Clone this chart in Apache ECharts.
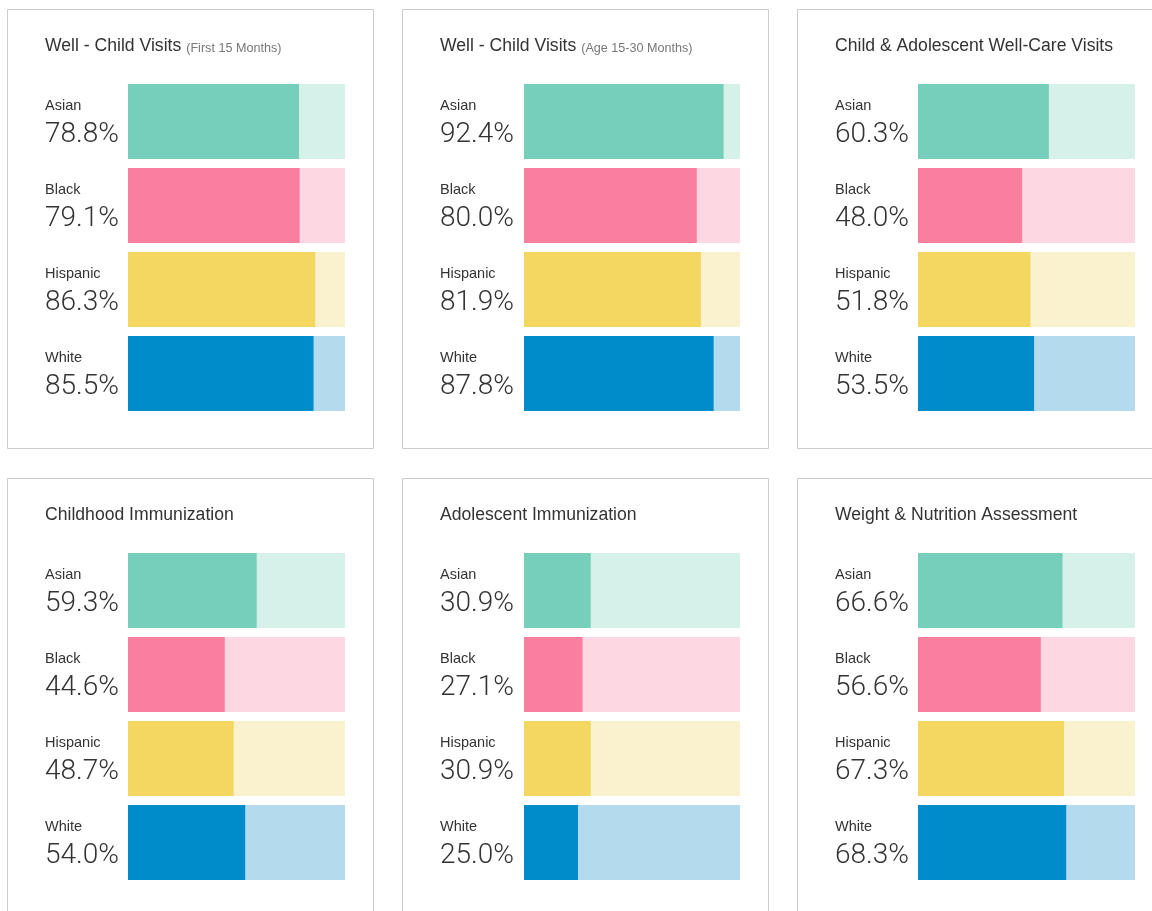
<!DOCTYPE html>
<html>
<head>
<meta charset="utf-8">
<script src="https://cdn.jsdelivr.net/npm/echarts@6/dist/echarts.min.js"></script>
<style>
html,body{margin:0;padding:0;background:#fff;}
#chart{width:1152px;height:911px;}
</style>
</head>
<body>
<div id="chart"></div>
<script>
// ---- Data ----
const categories = ['Asian', 'Black', 'Hispanic', 'White'];
const panelTitles = ['Well - Child Visits', 'Well - Child Visits', 'Child & Adolescent Well-Care Visits',
  'Childhood Immunization', 'Adolescent Immunization', 'Weight & Nutrition Assessment'];
const panelSubtitles = ['(First 15 Months)', '(Age 15-30 Months)', '', '', '', ''];
const wellChild15 = [78.8, 79.1, 86.3, 85.5];
const wellChild30 = [92.4, 80.0, 81.9, 87.8];
const wellCare = [60.3, 48.0, 51.8, 53.5];
const childImmun = [59.3, 44.6, 48.7, 54.0];
const adolImmun = [30.9, 27.1, 30.9, 25.0];
const weightNutrition = [66.6, 56.6, 67.3, 68.3];
const fullScale = [100, 100, 100, 100];
const panelValues = [wellChild15, wellChild30, wellCare, childImmun, adolImmun, weightNutrition];

// ---- Styles ----
const strongColors = ['#76CFBB', '#F87F9E', '#F3D760', '#008CCA'];
const lightColors = ['#D6F0EA', '#FDD7E2', '#FAF2CE', '#B3DBED'];
const colLeft = [128, 524, 918];
const colWidth = [217, 216, 217];
const textLeft = [45, 440, 835];
const panelLeft = [7.5, 402.5, 797.5];
const rowTop = [0, 469];

const chart = echarts.init(document.getElementById('chart'), null, {renderer: 'canvas'});

const grids = [], xAxes = [], yAxes = [], series = [], titles = [], graphics = [];
panelValues.forEach((vals, i) => {
  const c = i % 3, r = Math.floor(i / 3);
  const oy = rowTop[r];
  grids.push({left: colLeft[c], top: 79.5 + oy, width: colWidth[c], height: 336, containLabel: false});
  xAxes.push({type: 'value', gridIndex: i, min: 0, max: 100, show: false});
  yAxes.push({
    type: 'category', gridIndex: i, data: categories, inverse: true,
    axisLine: {show: false}, axisTick: {show: false}, splitLine: {show: false},
    axisLabel: {
      align: 'left', margin: colLeft[c] - textLeft[c], padding: [4, 0, 0, 0],
      formatter: (v, idx) => '{c|' + v + '}\n{v|' + vals[idx].toFixed(1) + '%}',
      rich: {
        c: {fontFamily: 'Liberation Sans, Arial, sans-serif', fontSize: 14.5, color: '#333', lineHeight: 23},
        v: {fontFamily: 'Roboto, sans-serif', fontWeight: 300, fontSize: 28, color: '#333', lineHeight: 36}
      }
    }
  });
  series.push({
    type: 'bar', xAxisIndex: i, yAxisIndex: i, data: fullScale, barWidth: 75, silent: true,
    itemStyle: {color: p => lightColors[p.dataIndex]}, animation: false
  });
  series.push({
    type: 'bar', xAxisIndex: i, yAxisIndex: i, data: vals, barWidth: 75, barGap: '-100%', silent: true,
    itemStyle: {color: p => strongColors[p.dataIndex]}, animation: false
  });
  const sub = panelSubtitles[i];
  titles.push({
    text: '{m|' + panelTitles[i] + '}' + (sub ? ' {s|' + sub + '}' : ''),
    left: textLeft[c], top: 35 + oy, padding: 0,
    textStyle: {
      fontWeight: 'normal',
      rich: {
        m: {fontFamily: 'Liberation Sans, Arial, sans-serif', fontWeight: 'normal', fontSize: 17.6, color: '#333', lineHeight: 22},
        s: {fontFamily: 'Liberation Sans, Arial, sans-serif', fontWeight: 'normal', fontSize: 12.6, color: '#777', padding: [6, 0, 0, 0]}
      }
    }
  });
  graphics.push({
    type: 'rect', silent: true,
    shape: {x: panelLeft[c], y: 9.5 + oy, width: 366, height: 439},
    style: {fill: null, stroke: '#cccccc', lineWidth: 1}
  });
});

chart.setOption({
  backgroundColor: '#ffffff',
  animation: false,
  title: titles,
  grid: grids,
  xAxis: xAxes,
  yAxis: yAxes,
  series: series,
  graphic: graphics
});
</script>
</body>
</html>
